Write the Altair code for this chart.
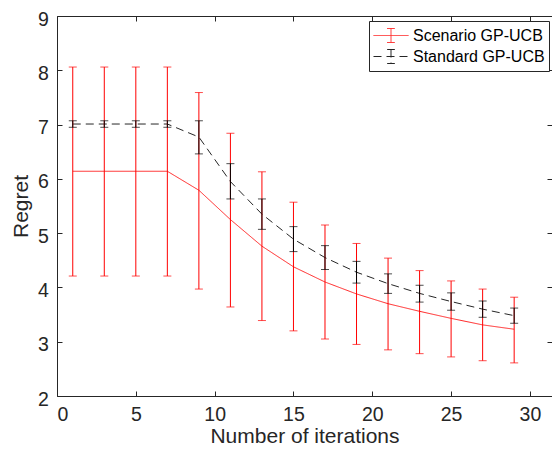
import altair as alt
import pandas as pd

iterations = [1, 3, 5, 7, 9, 11, 13, 15, 17, 19, 21, 23, 25, 27, 29]
scenario_mean = [6.14, 6.14, 6.14, 6.14, 5.79, 5.25, 4.76, 4.38, 4.10, 3.88, 3.70, 3.56, 3.43, 3.31, 3.23]
scenario_upper = [8.06, 8.06, 8.06, 8.06, 7.59, 6.84, 6.13, 5.57, 5.15, 4.81, 4.54, 4.31, 4.12, 3.97, 3.82]
scenario_lower = [4.21, 4.21, 4.21, 4.21, 3.97, 3.64, 3.39, 3.20, 3.05, 2.95, 2.85, 2.78, 2.72, 2.65, 2.61]
standard_mean = [7.01, 7.01, 7.01, 7.01, 6.77, 5.95, 5.35, 4.89, 4.55, 4.28, 4.07, 3.89, 3.74, 3.60, 3.48]
standard_upper = [7.07, 7.07, 7.07, 7.07, 7.07, 6.28, 5.63, 5.12, 4.77, 4.48, 4.25, 4.04, 3.90, 3.75, 3.62]
standard_lower = [6.95, 6.95, 6.95, 6.95, 6.46, 5.63, 5.07, 4.66, 4.33, 4.08, 3.89, 3.73, 3.58, 3.45, 3.34]
series_names = ["Scenario GP-UCB", "Standard GP-UCB"]
series_colors = ["#ff0000", "#000000"]
x_ticks = [0, 5, 10, 15, 20, 25, 30]
y_ticks = [2, 3, 4, 5, 6, 7, 8, 9]

rows = []
for name, means, ups, los in [
    (series_names[0], scenario_mean, scenario_upper, scenario_lower),
    (series_names[1], standard_mean, standard_upper, standard_lower),
]:
    for it, m, u, l in zip(iterations, means, ups, los):
        rows.append({"iter": it, "mean": m, "upper": u, "lower": l, "series": name})
df = pd.DataFrame(rows)

W, H = 495, 380
FONT = "Liberation Sans"
AX = "#262626"

xs = alt.Scale(domain=[0, 31.4], nice=False, zero=False)
ys = alt.Scale(domain=[2, 9], nice=False, zero=False)
color = alt.Color("series:N", scale=alt.Scale(domain=series_names, range=series_colors),
                  legend=alt.Legend(orient="none", legendX=312, legendY=5, title=None,
                                    symbolType="M-1,0H1M0,-0.4V0.4M-0.22,-0.4H0.22M-0.22,0.4H0.22",
                                    symbolSize=1225, symbolStrokeWidth=1,
                                    labelFont=FONT, labelFontSize=16, labelColor="#000000",
                                    labelOffset=4, padding=4, strokeColor=AX, fillColor="white",
                                    clipHeight=21, rowPadding=0))
color_nolegend = alt.Color("series:N", scale=alt.Scale(domain=series_names, range=series_colors), legend=None)

common_axis = dict(grid=False, labelFont=FONT, titleFont=FONT, labelColor=AX, titleColor=AX,
                   domainColor=AX, tickColor=AX, domainWidth=1, tickWidth=1)

x_main = alt.X("iter:Q", scale=xs, axis=alt.Axis(orient="bottom", values=x_ticks, ticks=False, domain=True,
                                                 labelPadding=9.5, labelFontSize=19.5, titleFontSize=21,
                                                 titleFontWeight="normal", titlePadding=1,
                                                 title="Number of iterations", **common_axis))
y_main = alt.Y("mean:Q", scale=ys, axis=alt.Axis(orient="left", values=y_ticks, ticks=False, domain=True,
                                                 labelPadding=8.7, labelFontSize=19.5, labelOffset=3,
                                                 titleFontSize=21, titleFontWeight="normal", titlePadding=6,
                                                 title="Regret", **common_axis))

lines = alt.Chart(df).mark_line(strokeWidth=1, opacity=0.85).encode(
    x=x_main, y=y_main, color=color,
    strokeDash=alt.StrokeDash("series:N", scale=alt.Scale(domain=series_names, range=[[1, 0], [8, 5]]), legend=None),
)

rules = alt.Chart(df).mark_rule(strokeWidth=1).encode(
    x=alt.X("iter:Q", scale=xs, axis=alt.Axis(orient="top", offset=-H, values=x_ticks, labels=False, ticks=True,
                                               tickSize=5, domain=False, title=None, **common_axis)),
    y=alt.Y("lower:Q", scale=ys, axis=alt.Axis(orient="right", offset=-W, values=y_ticks, labels=False, ticks=True,
                                                tickSize=5, domain=False, title=None, **common_axis)),
    y2="upper:Q",
    color=color_nolegend,
)

caps_up = alt.Chart(df).mark_tick(orient="horizontal", size=8, thickness=1).encode(
    x=alt.X("iter:Q", scale=xs, axis=alt.Axis(orient="bottom", offset=-H, values=x_ticks, labels=False, ticks=True,
                                               tickSize=5, domain=True, title=None, **common_axis)),
    y=alt.Y("upper:Q", scale=ys, axis=alt.Axis(orient="left", offset=-W, values=y_ticks, labels=False, ticks=True,
                                                tickSize=5, domain=False, title=None, **common_axis)),
    color=color_nolegend,
)

caps_lo = alt.Chart(df).mark_tick(orient="horizontal", size=8, thickness=1).encode(
    x=alt.X("iter:Q", scale=xs, axis=None),
    y=alt.Y("lower:Q", scale=ys, axis=None),
    color=color_nolegend,
)

chart = alt.layer(lines, rules, caps_up, caps_lo).resolve_scale(
    x="shared", y="shared", color="shared"
).resolve_axis(x="independent", y="independent").properties(
    width=W, height=H,
    autosize=alt.AutoSizeParams(type="none"),
    padding={"left": 49, "top": 8, "right": 0, "bottom": 52},
).configure_view(stroke="transparent")

chart.save("out.html", embed_options={"renderer": "svg", "actions": False})
